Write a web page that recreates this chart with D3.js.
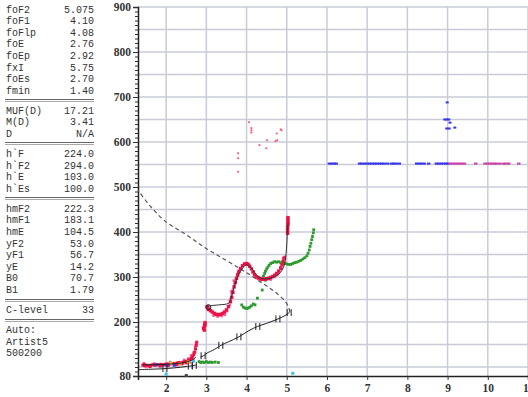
<!DOCTYPE html>
<html>
<head>
<meta charset="utf-8">
<script src="https://cdn.jsdelivr.net/npm/d3@7"></script>
<style>
  body { margin: 0; background: #fff; }
  svg { display: block; }
  .param { font-family: 'Liberation Mono', monospace; font-size: 10px; fill: #333; }
  .axis text { font-family: 'Liberation Serif', serif; font-weight: bold; font-size: 11.5px; fill: #333; }
</style>
</head>
<body>
<div id="chart"></div>
<script>
// scaled parameters (left panel)
const paramGroups = [
  [['foF2', '5.075'], ['foF1', '4.10'], ['foFlp', '4.08'], ['foE', '2.76'],
   ['foEp', '2.92'], ['fxI', '5.75'], ['foEs', '2.70'], ['fmin', '1.40']],
  [['MUF(D)', '17.21'], ['M(D)', '3.41'], ['D', 'N/A']],
  [['h`F', '224.0'], ['h`F2', '294.0'], ['h`E', '103.0'], ['h`Es', '100.0']],
  [['hmF2', '222.3'], ['hmF1', '183.1'], ['hmE', '104.5'], ['yF2', '53.0'],
   ['yF1', '56.7'], ['yE', '14.2'], ['B0', '70.7'], ['B1', '1.79']],
  [['C-level', '33']],
  [['Auto:', ''], ['Artist5', ''], ['500200', '']]
];

const freqTicks = [2, 3, 4, 5, 6, 7, 8, 9, 10, 11];
const heightLabels = [80, 200, 300, 400, 500, 600, 700, 800, 900];

// O-trace echoes [MHz, km]
const oTraceE = [[1.42,104],[1.47,103],[1.52,104],[1.57,103],[1.62,104],[1.67,105],[1.72,104],
  [1.77,105],[1.82,105],[1.87,106],[1.92,105],[1.97,106],[2.02,107],[2.07,106],[2.12,107],
  [2.17,108],[2.22,107],[2.27,109],[2.32,110],[2.37,109],[2.42,111],[2.47,112],[2.52,113],
  [2.56,115],[2.6,117],[2.63,120],[2.66,124],[2.69,128],[2.71,133],[2.73,140],[2.75,148],
  [2.76,155],[1.45,107],[1.6,101],[1.85,102],[2.05,103],[2.25,105],[2.4,107],[2.5,109]];
const oTraceF = [[2.93,186],[2.95,190],[2.96,194],[2.97,198],[2.95,182],
  [3.02,234],[3.05,228],[3.1,225],[3.15,222],[3.2,219],[3.25,217],[3.3,216],[3.35,217],
  [3.4,219],[3.45,222],[3.5,227],[3.55,234],[3.6,245],[3.63,255],[3.66,266],[3.69,278],
  [3.72,288],[3.75,297],[3.78,305],[3.81,312],[3.85,319],[3.9,325],[3.95,329],[4.0,330],
  [4.04,328],[4.08,324],[4.12,318],[4.16,311],[4.2,305],[4.25,300],[4.3,298],[4.35,296],
  [4.4,295],[4.45,295],[4.5,296],[4.55,297],[4.6,299],[4.65,301],[4.7,304],[4.75,308],
  [4.8,313],[4.85,320],[4.88,327],[4.91,335],[4.93,342],
  [5.02,397],[5.02,402],[5.02,407],[5.02,412],[5.03,417],[5.03,422],[5.03,427],[5.03,432]];
const oSpread = [[2.98,192],[2.96,200],[3.08,230],[3.12,226],[3.18,214],[3.28,212],[3.38,213],
  [3.46,216],[3.52,224],[3.58,238],[3.6,250],[3.63,262],[3.66,272],[3.7,284],[3.73,292],
  [3.62,268],[3.68,292],[3.76,300],[3.79,310],[3.83,316],[4.18,312],[4.22,302],[4.28,296],
  [4.35,292],[4.6,294],[4.7,300],[4.78,306],[4.86,318],[4.9,330],[4.95,345],
  [1.5,100],[1.7,108],[1.9,103],[2.1,111],[2.3,104],[2.45,116],[2.55,119],[2.62,126],
  [2.68,132],[2.72,145],[2.74,152],[2.68,118],[2.6,110]];
const oHigh = [[4.06,644],[4.12,631],[4.12,626],[4.12,621],[4.32,593],[4.51,604],[4.49,586],
  [4.75,619],[4.85,628],[4.87,626],[4.76,604],[4.72,602],[3.79,575],[3.79,564],[3.79,534]];

// X-trace echoes
const xTrace = [[2.82,112],[2.86,110],[2.9,111],[2.95,110],[3.0,112],[3.05,110],[3.1,111],
  [3.15,110],[3.22,111],[3.3,110],
  [3.88,238],[3.92,233],[3.96,231],[4.0,230],[4.04,231],[4.08,233],[4.12,236],[4.17,240],[4.21,238],
  [4.27,253],[4.39,271],[4.47,293],
  [4.42,302],[4.45,308],[4.47,313],[4.5,318],[4.53,322],[4.56,326],[4.6,330],[4.65,332],
  [4.7,334],[4.75,333],[4.8,334],[4.85,332],[4.9,331],[4.95,330],[5.0,329],[5.05,328],
  [5.1,328],[5.15,330],[5.2,332],[5.25,333],[5.3,335],[5.35,337],[5.4,340],[5.45,343],
  [5.5,347],[5.53,353],[5.56,360],[5.58,368],[5.6,375],[5.62,383],[5.64,390],[5.66,398],[5.67,405]];

// other echoes
const otherEchoes = [
  { f: 2.12, h: 108, c: '#e6d22a' }, { f: 2.55, h: 111, c: '#e6d22a' },
  { f: 2.0, h: 104, c: '#3a3ae0' }, { f: 2.2, h: 104, c: '#3a3ae0' }, { f: 1.75, h: 105, c: '#3a3ae0' },
  { f: 2.68, h: 113, c: '#38c0e8' }, { f: 2.0, h: 84, c: '#38c0e8' }, { f: 5.15, h: 86, c: '#38c0e8' },
  { f: 2.5, h: 81, c: '#444' }, { f: 2.35, h: 107, c: '#e89a2a' }
];
const esBlueFreq = [6.06,6.12,6.18,6.23,6.81,6.87,6.94,7.0,7.06,7.12,7.18,7.24,7.3,7.36,7.42,
  7.5,7.6,7.66,7.72,7.8,8.23,8.29,8.35,8.42,8.53,8.72,8.78,8.84,8.9,8.96,9.01];
const esPinkFreq = [9.06,9.12,9.18,9.24,9.3,9.36,9.42,9.7,9.93,9.99,10.05,10.11,10.17,10.22,
  10.3,10.39,10.45,10.52,10.77];
const esHeight = 552;
const esUpper = [[8.99,688],[8.93,650],[8.98,650],[9.03,650],[9.06,643],[8.98,630],[9.04,630],[9.18,632]];

// fitted traces and true-height profile
const trueProfileE = [[1.3,94],[1.6,95],[1.9,96],[2.2,98],[2.5,101],[2.76,104.5]];
const trueProfileF = [[2.85,122],[2.95,126],[3.02,131],[3.2,139],[3.36,148],[3.55,156],[3.81,167],
  [4.06,181],[4.27,190],[4.5,197],[4.76,206],[4.95,214],[5.05,220],[5.075,222.3]];
const profileTicks = [[1.97,96.5],[2.6,102],[2.7,103.5],[2.92,125],[3.36,148],[3.81,167],
  [4.28,190],[4.78,207],[5.06,221]];
const topside = [[5.075,222.3],[5.05,232],[4.97,245],[4.8,260],[4.6,274],[4.38,287],[4.1,304],
  [3.81,320],[3.4,342],[2.985,364],[2.5,394],[1.99,423],[1.6,458],[1.3,493]];
const fitE = [[1.42,105],[1.7,105],[2.0,106],[2.3,108],[2.5,111],[2.65,116],[2.74,122]];
const fitF = [[3.02,233],[3.1,236],[3.3,238],[3.56,242],[3.62,255],[3.7,280],[3.8,305],
  [3.89,318],[3.98,327],[4.05,325],[4.14,318],[4.22,308],[4.3,300],[4.4,296],[4.56,297],
  [4.7,301],[4.8,306],[4.88,315],[4.95,330],[4.99,360],[5.01,390],[5.03,420]];

const W = 528, H = 397;
const svg = d3.select('#chart').append('svg').attr('width', W).attr('height', H);

// left parameter panel
const panel = svg.append('g');
let rowY = 9;
paramGroups.forEach((group, gi) => {
  group.forEach(([name, val]) => {
    panel.append('text').attr('class', 'param').attr('x', 6).attr('y', rowY + 3.5).text(name);
    panel.append('text').attr('class', 'param').attr('x', 94).attr('y', rowY + 3.5)
      .attr('text-anchor', 'end').text(val);
    rowY += 11.6;
  });
  if (gi < paramGroups.length - 1) {
    const ly = Math.round(rowY - 2.5) + 0.5;
    [0, 2].forEach((off) => {
      panel.append('line').attr('x1', 5).attr('x2', 94).attr('y1', ly + off).attr('y2', ly + off)
        .attr('stroke', off ? '#aaa' : '#666').attr('stroke-width', 1);
    });
    rowY += 8.4;
  }
});

// scales
const x = d3.scaleLinear().domain([1.3, 11]).range([138, 528]);
const y = d3.scaleLinear().domain([80, 900]).range([376, 7]);

// grid
const grid = svg.append('g').attr('stroke', '#c9ccd8').attr('stroke-width', 1.5);
grid.selectAll('.vg').data(freqTicks).enter().append('line')
  .attr('x1', (d) => x(d)).attr('x2', (d) => x(d)).attr('y1', y(900)).attr('y2', y(80));
grid.selectAll('.hg').data(d3.range(100, 901, 50)).enter().append('line')
  .attr('x1', x(1.3)).attr('x2', W).attr('y1', (d) => y(d)).attr('y2', (d) => y(d));

// axes
const minorY = svg.append('g').attr('class', 'axis').attr('transform', `translate(${x(1.3)},0)`)
  .call(d3.axisLeft(y).tickValues(d3.range(80, 901, 10)).tickSize(3).tickFormat(''));
minorY.select('.domain').remove();
const majorY = svg.append('g').attr('class', 'axis').attr('transform', `translate(${x(1.3)},0)`)
  .call(d3.axisLeft(y).tickValues(heightLabels).tickSize(5).tickPadding(2));
majorY.select('.domain').attr('stroke', '#222').attr('stroke-width', 1.5);
svg.selectAll('.axis .tick line').attr('stroke', '#333');

const xAxis = svg.append('g').attr('class', 'axis').attr('transform', `translate(0,${y(80)})`)
  .call(d3.axisBottom(x).tickValues(freqTicks).tickSize(4).tickPadding(4).tickFormat(d3.format('d')));
xAxis.select('.domain').attr('stroke', '#222').attr('stroke-width', 1.5);
xAxis.selectAll('.tick line').attr('stroke', '#333');

// echoes
const dots = (data, color, w, h) => svg.append('g').selectAll('rect').data(data).enter().append('rect')
  .attr('x', (d) => x(d[0]) - w / 2).attr('y', (d) => y(d[1]) - h / 2)
  .attr('width', w).attr('height', h).attr('fill', color);

dots(oSpread, '#ff5c9e', 2.5, 2.5);
dots(oHigh, '#ff4d7a', 1.8, 1.8);
dots(xTrace, '#2f9a2f', 2.8, 2.8);
dots(oTraceE, '#ee1144', 3, 3);
dots(oTraceF, '#ee1144', 3.4, 3.4);
svg.append('g').selectAll('rect').data(otherEchoes).enter().append('rect')
  .attr('x', (d) => x(d.f) - 1.5).attr('y', (d) => y(d.h) - 1.5)
  .attr('width', 3).attr('height', 3).attr('fill', (d) => d.c);
dots(esBlueFreq.map((f) => [f, esHeight]), '#3434ec', 3.5, 2);
dots(esPinkFreq.map((f) => [f, esHeight]), '#cc3fa8', 3.5, 2);
dots(esUpper, '#3434ec', 3, 2);

// fitted lines
const lineX = d3.line().x((d) => x(d[0])).y((d) => y(d[1])).curve(d3.curveCatmullRom);
svg.append('path').datum(topside).attr('d', lineX).attr('fill', 'none')
  .attr('stroke', '#555').attr('stroke-width', 1.2).attr('stroke-dasharray', '4,3');
[trueProfileE, trueProfileF, fitE].forEach((pts) => {
  svg.append('path').datum(pts).attr('d', lineX).attr('fill', 'none')
    .attr('stroke', '#222').attr('stroke-width', 1);
});
svg.append('path').datum(fitF).attr('d', lineX).attr('fill', 'none')
  .attr('stroke', '#333').attr('stroke-width', 1);

// H marks along the profile
const ticks = svg.append('g').attr('stroke', '#222').attr('stroke-width', 1);
profileTicks.forEach(([f, h]) => {
  [-2, 2].forEach((dx) => {
    ticks.append('line').attr('x1', x(f) + dx).attr('x2', x(f) + dx)
      .attr('y1', y(h) - 3.5).attr('y2', y(h) + 3.5);
  });
});
// h'F marker
svg.append('circle').attr('cx', x(3.05)).attr('cy', y(233)).attr('r', 2.5)
  .attr('fill', 'none').attr('stroke', '#222').attr('stroke-width', 1);
</script>
</body>
</html>
